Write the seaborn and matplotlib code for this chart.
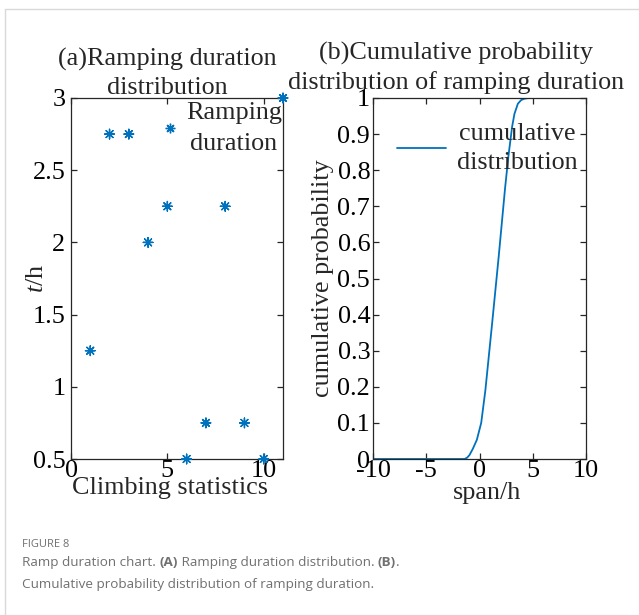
import numpy as np
import pandas as pd
import matplotlib
matplotlib.use("Agg")
import matplotlib.pyplot as plt
import seaborn as sns
from matplotlib.lines import Line2D

# ---- data ----
climb_index = [1, 2, 3, 4, 5, 6, 7, 8, 9, 10, 11]
ramp_duration = [1.25, 2.75, 2.75, 2.0, 2.25, 0.5, 0.75, 2.25, 0.75, 0.5, 3.0]

span_h = [-10, -1.4, -1.15, -0.94, -0.63, -0.25, 0.16, 0.55, 1.2, 1.8, 2.4, 2.72,
          3.06, 3.28, 3.6, 3.9, 4.2, 4.6, 10]
cum_prob = [0, 0, 0.004, 0.011, 0.028, 0.053, 0.1, 0.19, 0.38, 0.56, 0.75, 0.84,
            0.92, 0.956, 0.984, 0.994, 0.998, 1.0, 1.0]

left_xticks = [0, 5, 10]
left_yticks = [0.5, 1, 1.5, 2, 2.5, 3]
left_yticklabels = ["0.5", "1", "1.5", "2", "2.5", "3"]
right_xticks = [-10, -5, 0, 5, 10]
right_yticks = [0, 0.1, 0.2, 0.3, 0.4, 0.5, 0.6, 0.7, 0.8, 0.9, 1.0]
right_yticklabels = ["0", "0.1", "0.2", "0.3", "0.4", "0.5", "0.6", "0.7", "0.8", "0.9", "1"]

title_a = "(a)Ramping duration\ndistribution"
title_b = "(b)Cumulative probability\ndistribution of ramping duration"
legend_a = "Ramping\nduration"
legend_b = "cumulative\ndistribution"
xlabel_a = "Climbing statistics"
ylabel_a = "$t$/h"
xlabel_b = "span/h"
ylabel_b = "cumulative probability"
caption_head = "FIGURE 8"

df_a = pd.DataFrame({"x": climb_index, "y": ramp_duration, "s": legend_a})
df_b = pd.DataFrame({"x": span_h, "y": cum_prob, "s": legend_b})

sns.set_style("ticks")
plt.rcParams["font.family"] = ["Liberation Serif", "DejaVu Serif"]
plt.rcParams["mathtext.fontset"] = "custom"
plt.rcParams["mathtext.rm"] = "Liberation Serif"
plt.rcParams["mathtext.it"] = "Liberation Serif:italic"

FS = 18.8
BLUE = "#0072BD"
SPINE = "#262626"

W, H = 639, 615
fig = plt.figure(figsize=(W / 100, H / 100), dpi=100)
fig.patch.set_facecolor("white")

def px_axes(l, t, r, b):
    return [l / W, 1 - b / H, (r - l) / W, (b - t) / H]

ax1 = fig.add_axes(px_axes(71, 98, 283, 459))
ax2 = fig.add_axes(px_axes(373, 98, 586, 459))

# ---- left panel ----
sns.scatterplot(data=df_a, x="x", y="y", hue="s", palette=[BLUE], marker=(8, 2, 0),
                s=48, linewidth=1.0, edgecolor=BLUE, ax=ax1, clip_on=False, zorder=5)
ax1.set_xlim(0, 11)
ax1.set_ylim(0.5, 3)
ax1.set_xticks(left_xticks)
ax1.set_xticklabels([str(v) for v in left_xticks])
ax1.set_yticks(left_yticks)
ax1.set_yticklabels(left_yticklabels)

# ---- right panel ----
sns.lineplot(data=df_b, x="x", y="y", hue="s", palette=[BLUE], linewidth=1.3, ax=ax2)
ax2.set_xlim(-10, 10)
ax2.set_ylim(0, 1)
ax2.set_xticks(right_xticks)
ax2.set_xticklabels([str(v) for v in right_xticks])
ax2.set_yticks(right_yticks)
ax2.set_yticklabels(right_yticklabels)

for ax in (ax1, ax2):
    for sp in ax.spines.values():
        sp.set_visible(True)
        sp.set_color(SPINE)
        sp.set_linewidth(0.9)
    ax.tick_params(direction="in", length=4, width=0.9, color=SPINE,
                   top=True, right=True, labelsize=FS, labelcolor="black")
    ax.tick_params(axis="x", pad=1.0)
    ax.set_facecolor("white")
    ax.grid(False)

ax1.tick_params(axis="y", pad=4)
ax2.tick_params(axis="y", pad=2)

# labels
ax1.set_xlabel(xlabel_a, fontsize=FS)
ax1.set_ylabel(ylabel_a, fontsize=FS)
ax1.xaxis.set_label_coords(0.467, -0.05)
ax1.yaxis.set_label_coords(-0.11, 0.5)
ax2.set_xlabel(xlabel_b, fontsize=FS)
ax2.set_ylabel(ylabel_b, fontsize=FS)
ax2.xaxis.set_label_coords(0.535, -0.063)
ax2.yaxis.set_label_coords(-0.185, 0.5)

# titles
ax1.text(0.453, 1.011, title_a, transform=ax1.transAxes, ha="center", va="baseline",
         fontsize=FS, linespacing=1.33, multialignment="center")
ax2.text(0.39, 1.024, title_b, transform=ax2.transAxes, ha="center", va="baseline",
         fontsize=FS, linespacing=1.33, multialignment="center")

# legends
leg1 = ax1.legend(loc="upper right", bbox_to_anchor=(0.995, 0.99), frameon=False,
                  fontsize=FS, handlelength=0.8, handletextpad=0.2,
                  borderpad=0.0, borderaxespad=0.0)
for t in leg1.get_texts():
    t.set_multialignment("center")
    t.set_linespacing(1.55)
leg2 = ax2.legend(loc="upper right", bbox_to_anchor=(0.96, 0.932), frameon=False,
                  fontsize=FS, handlelength=1.9, handletextpad=0.4,
                  borderpad=0.0, borderaxespad=0.0)
for t in leg2.get_texts():
    t.set_multialignment("center")
    t.set_linespacing(1.45)

# ---- outer frame lines ----
fig.add_artist(Line2D([4.5 / W, 4.5 / W], [0, 1 - 8.5 / H], transform=fig.transFigure,
                      color="#d9d9d9", linewidth=1.0))
fig.add_artist(Line2D([4.5 / W, 1], [1 - 8.5 / H, 1 - 8.5 / H], transform=fig.transFigure,
                      color="#d9d9d9", linewidth=1.0))

# ---- caption ----
CAP = ["Open Sans", "DejaVu Sans"]
CAPC = "#707070"
fig.text(22 / W, 1 - 547 / H, caption_head, fontsize=8.0, family=CAP, color="#707070",
         va="baseline", ha="left")

fig.canvas.draw()
renderer = fig.canvas.get_renderer()

def write_runs(runs, x0, ybase, size):
    x = x0
    for txt, bold in runs:
        t = fig.text(x / W, 1 - ybase / H, txt, fontsize=size, family=CAP, color=CAPC,
                     fontweight="bold" if bold else "normal", va="baseline", ha="left")
        bb = t.get_window_extent(renderer=renderer)
        x += bb.width

line2 = [("Ramp duration chart. ", False), ("(A)", True),
         (" Ramping duration distribution. ", False), ("(B)", True), (".", False)]
line3 = [("Cumulative probability distribution of ramping duration.", False)]
write_runs(line2, 22, 565.7, 9.7)
write_runs(line3, 22, 588.3, 9.7)

fig.savefig("out.png", dpi=100, facecolor="white")
